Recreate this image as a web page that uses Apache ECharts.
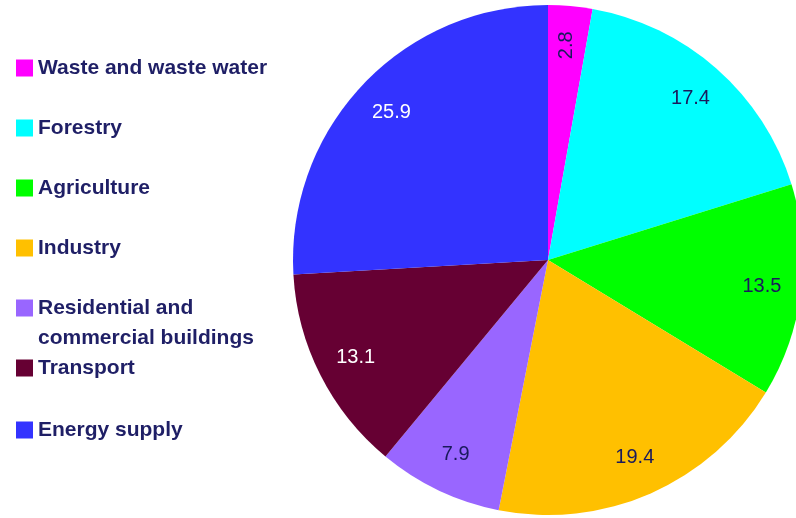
<!DOCTYPE html>
<html>
<head>
<meta charset="utf-8">
<style>
  html, body { margin: 0; padding: 0; background: #ffffff; }
  #chart { width: 796px; height: 518px; }
</style>
<script src="https://cdn.jsdelivr.net/npm/echarts@6/dist/echarts.min.js"></script>
</head>
<body>
<div id="chart"></div>
<script>
// Greenhouse-gas emissions share by sector (%), clockwise from 12 o'clock
const sectors = [
  'Waste and waste water',
  'Forestry',
  'Agriculture',
  'Industry',
  'Residential and\ncommercial buildings',
  'Transport',
  'Energy supply'
];
const shares = [2.8, 17.4, 13.5, 19.4, 7.9, 13.1, 25.9];
const sliceColors = ['#FF00FF', '#00FFFF', '#00FF00', '#FFC000', '#9966FF', '#660033', '#3333FF'];
const labelColors = ['#1A1A5C', '#1A1A5C', '#1A1A5C', '#1A1A5C', '#1A1A5C', '#FFFFFF', '#FFFFFF'];
// vertical centre of each legend entry's first text line
const legendRows = [68, 128, 188, 248, 308, 368, 430];

const legendText = '#1F1F66';
const center = [548, 260];
const R = 255;

const chart = echarts.init(document.getElementById('chart'), null, { renderer: 'canvas' });

const sliceData = sectors.map((name, i) => ({
  name,
  value: shares[i],
  itemStyle: { color: sliceColors[i] }
}));

const labelData = sectors.map((name, i) => ({
  name,
  value: shares[i],
  itemStyle: { color: 'rgba(0,0,0,0)' },
  label: {
    color: labelColors[i],
    rotate: i === 0 ? 90 : 0
  }
}));

// one legend block per sector so every row keeps its own spacing;
// a two-line name gets an empty leading line so the swatch sits beside its first line
const legends = sectors.map((name, i) => {
  const twoLine = name.indexOf('\n') >= 0;
  return {
    orient: 'vertical',
    left: 16,
    top: twoLine ? legendRows[i] - 45 : legendRows[i] - 15,
    padding: 0,
    itemWidth: 17,
    itemHeight: 17,
    icon: 'rect',
    selectedMode: false,
    data: [name],
    formatter: n => (n.indexOf('\n') >= 0 ? ' \n' + n : n),
    textStyle: {
      fontFamily: 'Liberation Sans',
      fontWeight: 'bold',
      fontSize: 21,
      lineHeight: 30,
      color: legendText
    }
  };
});

chart.setOption({
  animation: false,
  backgroundColor: '#ffffff',
  legend: legends,
  series: [
    {
      type: 'pie',
      center: center,
      radius: [0, R],
      startAngle: 90,
      clockwise: true,
      label: { show: false },
      labelLine: { show: false },
      emphasis: { disabled: true },
      itemStyle: { borderWidth: 0 },
      data: sliceData
    },
    {
      // transparent ring carrying the value labels near the rim
      type: 'pie',
      center: center,
      radius: [170, R],
      startAngle: 90,
      clockwise: true,
      silent: true,
      legendHoverLink: false,
      labelLine: { show: false },
      emphasis: { disabled: true },
      label: {
        show: true,
        position: 'inside',
        formatter: p => p.value.toFixed(1),
        fontFamily: 'Liberation Sans',
        fontSize: 20
      },
      data: labelData
    }
  ]
});
</script>
</body>
</html>
